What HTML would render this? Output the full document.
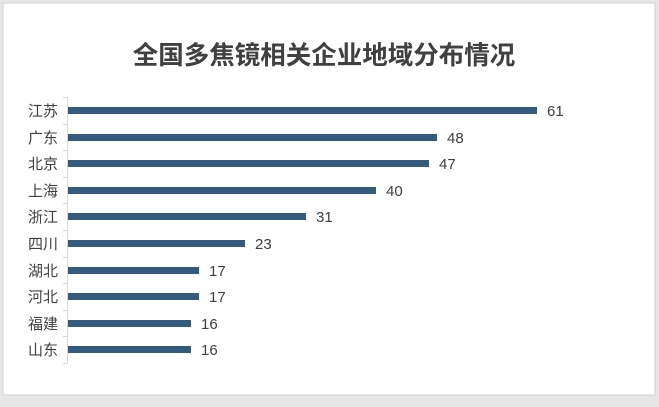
<!DOCTYPE html>
<html><head><meta charset="utf-8"><style>
body{margin:0;background:#fff;}
svg{display:block;font-family:"Liberation Sans","Noto Sans CJK SC",sans-serif;}
</style></head><body>
<svg width="659" height="407" viewBox="0 0 659 407">
<rect x="0" y="0" width="659" height="407" fill="#e6e6e6"/>
<rect x="3" y="3" width="652" height="392" fill="#fff" stroke="#d0d0d0"/>
<text x="324" y="64" text-anchor="middle" font-size="25.5" font-weight="bold" fill="#404040">全国多焦镜相关企业地域分布情况</text>
<line x1="67.5" y1="97" x2="67.5" y2="363" stroke="#d9d9d9"/>
<g stroke="#d9d9d9">
<line x1="63" y1="97.5" x2="67" y2="97.5"/><line x1="63" y1="124.5" x2="67" y2="124.5"/><line x1="63" y1="150.5" x2="67" y2="150.5"/><line x1="63" y1="177.5" x2="67" y2="177.5"/><line x1="63" y1="203.5" x2="67" y2="203.5"/><line x1="63" y1="230.5" x2="67" y2="230.5"/><line x1="63" y1="257.5" x2="67" y2="257.5"/><line x1="63" y1="283.5" x2="67" y2="283.5"/><line x1="63" y1="310.5" x2="67" y2="310.5"/><line x1="63" y1="336.5" x2="67" y2="336.5"/><line x1="63" y1="363.5" x2="67" y2="363.5"/>
</g>
<g fill="#335b7d">
<rect x="68" y="107" width="469" height="7"/>
<rect x="68" y="134" width="369" height="7"/>
<rect x="68" y="160" width="361" height="7"/>
<rect x="68" y="187" width="308" height="7"/>
<rect x="68" y="213" width="238" height="7"/>
<rect x="68" y="240" width="177" height="7"/>
<rect x="68" y="267" width="131" height="7"/>
<rect x="68" y="293" width="131" height="7"/>
<rect x="68" y="320" width="123" height="7"/>
<rect x="68" y="346" width="123" height="7"/>
</g>
<g font-size="15" fill="#404040" text-anchor="end">
<text x="58" y="116">江苏</text><text x="58" y="143">广东</text><text x="58" y="169">北京</text><text x="58" y="196">上海</text><text x="58" y="222">浙江</text><text x="58" y="249">四川</text><text x="58" y="276">湖北</text><text x="58" y="302">河北</text><text x="58" y="329">福建</text><text x="58" y="355">山东</text>
</g>
<g font-size="15" fill="#404040">
<text x="547" y="116">61</text><text x="447" y="143">48</text><text x="439" y="169">47</text><text x="386" y="196">40</text><text x="316" y="222">31</text><text x="255" y="249">23</text><text x="209" y="276">17</text><text x="209" y="302">17</text><text x="201" y="329">16</text><text x="201" y="355">16</text>
</g>
</svg>
</body></html>
